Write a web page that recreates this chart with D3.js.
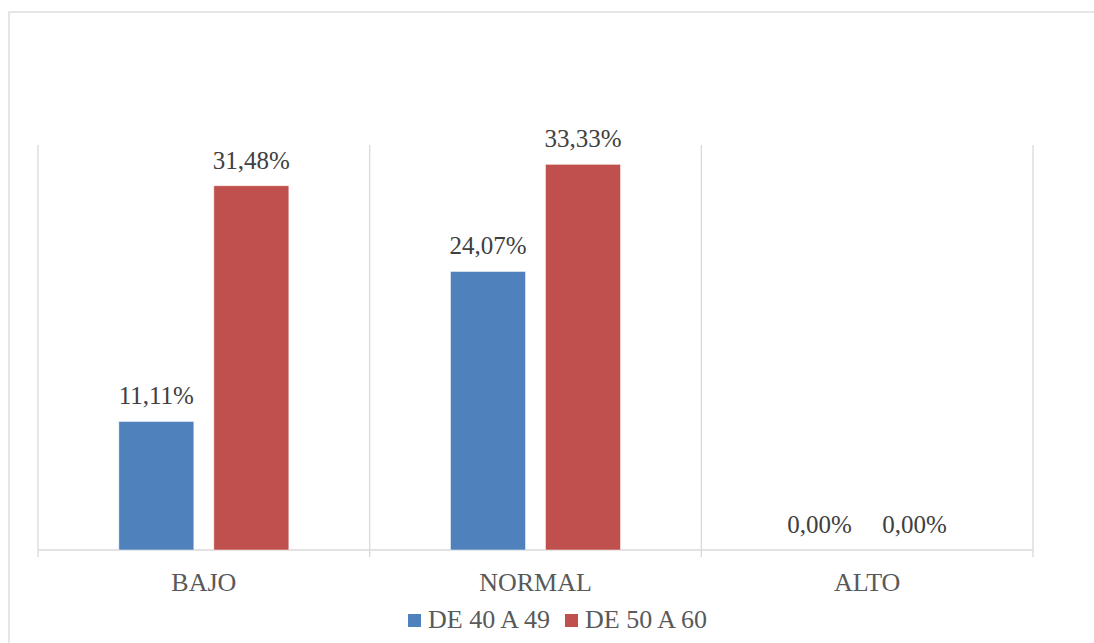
<!DOCTYPE html>
<html>
<head>
<meta charset="utf-8">
<script src="https://cdn.jsdelivr.net/npm/d3@7"></script>
<style>
  html, body { margin: 0; padding: 0; background: #fff; }
  svg { display: block; }
</style>
</head>
<body>
<svg id="chart" width="1094" height="643"></svg>
<script>
// Categories, series and values (percent)
const categories = ["BAJO", "NORMAL", "ALTO"];
const seriesNames = ["DE 40 A 49", "DE 50 A 60"];
const seriesColors = ["#4f81bd", "#c0504d"];
const valuesAge40to49 = [11.11, 24.07, 0.00];
const valuesAge50to60 = [31.48, 33.33, 0.00];
const yMax = 35;

const FONT = "'Liberation Serif'";

const seriesValues = [valuesAge40to49, valuesAge50to60];
const rows = categories.map((c, i) => ({
  category: c,
  values: seriesNames.map((s, j) => ({ series: s, value: seriesValues[j][i], color: seriesColors[j] }))
}));

const svg = d3.select("#chart");
const W = 1094, H = 643;
const plot = { left: 38, right: 1033, top: 145, bottom: 550 };

// Outer chart frame
svg.append("rect")
  .attr("x", 9).attr("y", 12)
  .attr("width", W + 10).attr("height", H + 10)
  .attr("fill", "#fff")
  .attr("stroke", "#d9d9d9").attr("stroke-width", 1.3);

const x = d3.scaleBand().domain(categories).range([plot.left, plot.right]).padding(0);
const y = d3.scaleLinear().domain([0, yMax]).range([plot.bottom, plot.top]);

const barW = 75, barGap = 20;
const xInner = d3.scaleBand().domain(seriesNames)
  .range([0, barW * 2 + barGap]).paddingInner(barGap / (barW + barGap)).paddingOuter(0);
const groupOffset = (x.bandwidth() - (barW * 2 + barGap)) / 2;

// Vertical gridlines at category boundaries
const boundaries = categories.map(c => x(c)).concat([x(categories[categories.length - 1]) + x.bandwidth()]);
svg.append("g").selectAll("line").data(boundaries).join("line")
  .attr("x1", d => d).attr("x2", d => d)
  .attr("y1", plot.top).attr("y2", plot.bottom)
  .attr("stroke", "#d9d9d9").attr("stroke-width", 1.3);

// Category axis with tick marks between categories
const xAxis = svg.append("g").attr("transform", `translate(0,${plot.bottom})`);
xAxis.append("line")
  .attr("x1", plot.left).attr("x2", plot.right)
  .attr("stroke", "#d9d9d9").attr("stroke-width", 1.5);
xAxis.selectAll(".tick-mark").data(boundaries).join("line")
  .attr("class", "tick-mark")
  .attr("x1", d => d).attr("x2", d => d)
  .attr("y1", 0).attr("y2", 7)
  .attr("stroke", "#d9d9d9").attr("stroke-width", 1.3);
xAxis.selectAll(".cat-label").data(categories).join("text")
  .attr("class", "cat-label")
  .attr("x", d => x(d) + x.bandwidth() / 2)
  .attr("y", 41)
  .attr("text-anchor", "middle")
  .style("font-family", FONT)
  .style("font-size", "26px")
  .attr("fill", "#595959")
  .text(d => d);

// Bars and value labels
const groups = svg.append("g").selectAll("g").data(rows).join("g")
  .attr("transform", d => `translate(${x(d.category) + groupOffset},0)`);

groups.selectAll("rect").data(d => d.values).join("rect")
  .attr("x", d => xInner(d.series))
  .attr("width", xInner.bandwidth())
  .attr("y", d => y(d.value))
  .attr("height", d => y(0) - y(d.value))
  .attr("fill", d => d.color)
  .attr("stroke", "#ffffff").attr("stroke-opacity", 0.6).attr("stroke-width", 0.8);

const fmt = v => v.toFixed(2).replace(".", ",") + "%";
groups.selectAll("text").data(d => d.values).join("text")
  .attr("x", d => xInner(d.series) + xInner.bandwidth() / 2)
  .attr("y", d => y(d.value) - 17)
  .attr("text-anchor", "middle")
  .style("font-family", FONT)
  .style("font-size", "25px")
  .attr("fill", "#404040")
  .text(d => fmt(d.value));

// Legend
const legend = svg.append("g").attr("transform", "translate(408,628)");
const legendX = [0, 157];
const items = legend.selectAll("g").data(seriesNames).join("g")
  .attr("transform", (d, i) => `translate(${legendX[i]},0)`);
items.append("rect")
  .attr("x", 0).attr("y", -14)
  .attr("width", 13).attr("height", 13)
  .attr("fill", (d, i) => seriesColors[i]);
items.append("text")
  .attr("x", 20).attr("y", 0)
  .style("font-family", FONT)
  .style("font-size", "26px")
  .attr("fill", "#595959")
  .text(d => d);
</script>
</body>
</html>
